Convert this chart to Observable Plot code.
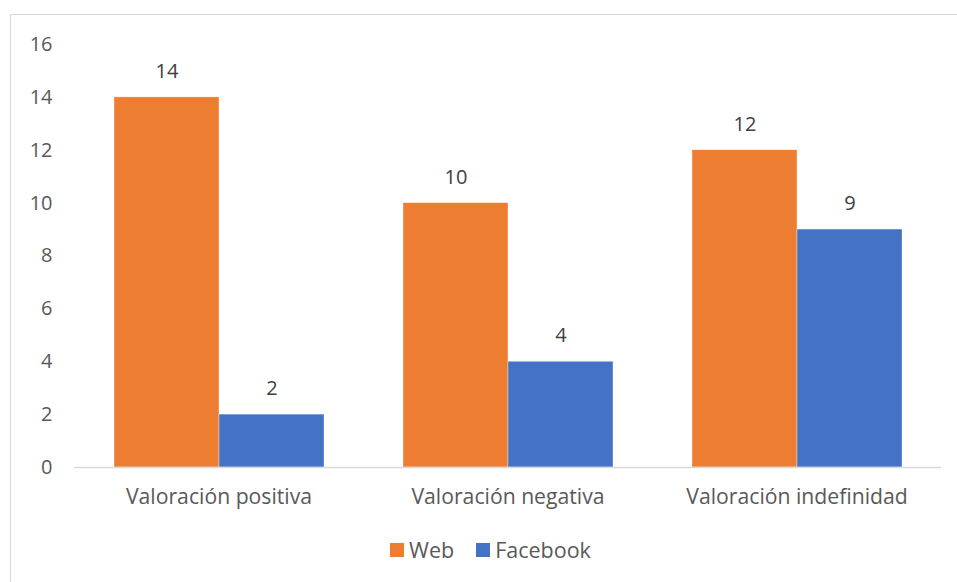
<!DOCTYPE html>
<html>
<head>
<meta charset="utf-8">
<script src="https://cdn.jsdelivr.net/npm/d3@7"></script>
<script src="https://cdn.jsdelivr.net/npm/@observablehq/plot@0.6"></script>
<style>
  html, body { margin: 0; padding: 0; background: #fff; width: 957px; height: 582px; overflow: hidden; }
  #wrap { position: relative; width: 957px; height: 582px; font-family: "Open Sans", sans-serif; }
  #frame { position: absolute; left: 10px; top: 14px; width: 960px; height: 600px; border: 1.5px solid #d9d9d9; box-sizing: border-box; }
  #chart { position: absolute; left: 0; top: 0; }
  #legend { position: absolute; left: 12px; width: 957px; top: 535px; display: flex; justify-content: center; gap: 22px; color: #595959; font-size: 21.5px; }
  #legend .item { display: flex; align-items: center; gap: 5px; }
  #legend .sw { width: 14px; height: 14px; display: inline-block; }
</style>
</head>
<body>
<div id="wrap">
  <div id="frame"></div>
  <div id="chart"></div>
  <div id="legend"></div>
</div>
<script>
const categories = ["Valoración positiva", "Valoración negativa", "Valoración indefinidad"];
const series = ["Web", "Facebook"];
const webValues = [14, 10, 12];
const facebookValues = [2, 4, 9];
const colors = ["#ED7D31", "#4472C4"];
const yTicks = [0, 2, 4, 6, 8, 10, 12, 14, 16];

const data = [];
categories.forEach((c, i) => {
  data.push({category: c, series: "Web", value: webValues[i]});
  data.push({category: c, series: "Facebook", value: facebookValues[i]});
});

const plot = Plot.plot({
  width: 957,
  height: 520,
  marginTop: 44,
  marginBottom: 53,
  marginLeft: 74,
  marginRight: 16,
  style: {fontFamily: "Open Sans, sans-serif", fontSize: "20px", color: "#595959", background: "transparent"},
  fx: {domain: categories, padding: 0, label: null},
  x: {domain: series, paddingInner: 0, paddingOuter: 0.376, axis: null},
  y: {domain: [0, 16], ticks: yTicks, label: null},
  color: {domain: series, range: colors},
  marks: [
    Plot.axisY({ticks: yTicks, tickSize: 0, tickPadding: 22, fontSize: 20, label: null}),
    Plot.axisFx({anchor: "bottom", tickSize: 0, tickPadding: 21, fontSize: 21.2, label: null}),
    Plot.barY(data, {fx: "category", x: "series", y: "value", fill: "series", inset: 0, stroke: "#fff", strokeWidth: 0.6, strokeOpacity: 0.6}),
    Plot.ruleY([0], {stroke: "#d9d9d9", strokeWidth: 1.5}),
    Plot.text(data, {fx: "category", x: "series", y: "value", text: d => String(d.value), dy: -26, fontSize: 20, fill: "#404040"})
  ]
});
document.getElementById("chart").appendChild(plot);

const legend = document.getElementById("legend");
series.forEach((s, i) => {
  const item = document.createElement("div");
  item.className = "item";
  const sw = document.createElement("span");
  sw.className = "sw";
  sw.style.background = colors[i];
  const label = document.createElement("span");
  label.textContent = s;
  item.appendChild(sw);
  item.appendChild(label);
  legend.appendChild(item);
});
</script>
</body>
</html>
